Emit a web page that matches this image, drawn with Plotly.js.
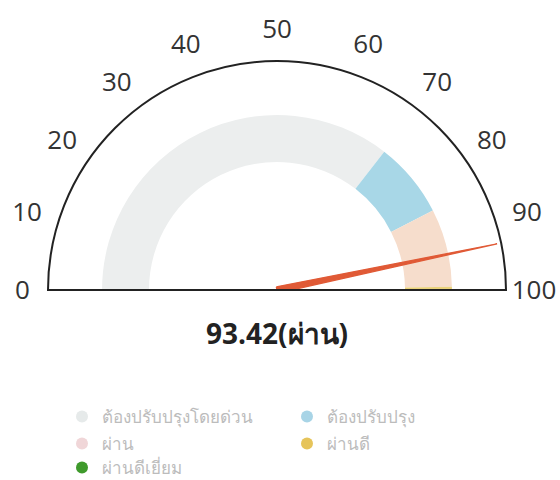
<!DOCTYPE html>
<html>
<head>
<meta charset="utf-8">
<script src="https://cdn.plot.ly/plotly-3.0.1.min.js"></script>
<style>html,body{margin:0;padding:0;background:#fff;}#chart{width:560px;height:480px;}</style>
</head>
<body>
<div id="chart"></div>
<script>
// ---- data ----
var gaugeMin = 0;
var gaugeMax = 100;
var tickValues = [0, 10, 20, 30, 40, 50, 60, 70, 80, 90, 100];
var tickLabels = ['0', '10', '20', '30', '40', '50', '60', '70', '80', '90', '100'];
var bandNames = ['ต้องปรับปรุงโดยด่วน', 'ต้องปรับปรุง', 'ผ่าน', 'ผ่านดี'];
var bandStarts = [0, 71, 85, 99.4];
var bandEnds = [71, 85, 99.4, 100];
var bandColors = ['#eceeee', '#a8d7e7', '#f6ddcc', '#ead27a'];
var legendNames = ['ต้องปรับปรุงโดยด่วน', 'ต้องปรับปรุง', 'ผ่าน', 'ผ่านดี', 'ผ่านดีเยี่ยม'];
var legendColors = ['#e6eaea', '#a8d4e6', '#f0d6d8', '#e6c45a', '#3f9a2c'];
var legendRows = ['legend', 'legend', 'legend2', 'legend2', 'legend3'];
var score = 93.42;
var scoreLabel = '93.42(ผ่าน)';

// ---- drawing ----
var deg = function (v) { return (v - gaugeMin) / (gaugeMax - gaugeMin) * 180; };
var FONT = '"Open Sans", "Noto Sans", "DejaVu Sans", sans-serif';
var innerR = 0.559, outerR = 0.764;
var nT = tickValues.length;

var traces = [];
for (var i = 0; i < bandNames.length; i++) {
  traces.push({
    type: 'barpolar',
    subplot: 'polar',
    r: [outerR - innerR],
    base: [innerR],
    theta: [(deg(bandStarts[i]) + deg(bandEnds[i])) / 2],
    width: [deg(bandEnds[i]) - deg(bandStarts[i])],
    marker: {color: bandColors[i], line: {width: 0}},
    name: bandNames[i],
    showlegend: false,
    hoverinfo: 'skip'
  });
}
// needle
var na = deg(score);
traces.push({
  type: 'scatterpolar',
  subplot: 'polar',
  mode: 'lines',
  r: [0.014, 0.982, 0.014, 0.014],
  theta: [na - 90, na, na + 90, na - 90],
  fill: 'toself',
  fillcolor: '#e05a36',
  line: {color: '#e05a36', width: 1.3},
  showlegend: false,
  hoverinfo: 'skip'
});
// legend entries
for (var j = 0; j < legendNames.length; j++) {
  traces.push({
    type: 'scatterpolar',
    subplot: 'polar2',
    mode: 'markers',
    r: [null],
    theta: [null],
    name: legendNames[j],
    legend: legendRows[j],
    marker: {color: legendColors[j], size: 12, symbol: 'circle'},
    hoverinfo: 'skip'
  });
}

function legendRow(yPix) {
  return {
    orientation: 'h',
    x: 62 / 560,
    xanchor: 'left',
    y: 1 - yPix / 480,
    yanchor: 'middle',
    entrywidth: 180,
    entrywidthmode: 'pixels',
    font: {size: 17, color: '#bcbcbc', family: FONT},
    bgcolor: 'rgba(0,0,0,0)',
    itemclick: false
  };
}

var domain = {x: [48 / 560, 506 / 560], y: [190 / 480, 419 / 480]};
function angular(vals, texts, len, showline) {
  return {
    rotation: 180,
    direction: 'clockwise',
    tickmode: 'array',
    tickvals: vals.map(deg),
    ticktext: texts,
    showgrid: false,
    showline: showline,
    linecolor: '#222',
    linewidth: 2,
    ticks: 'outside',
    ticklen: len,
    tickcolor: 'rgba(0,0,0,0)',
    tickfont: {size: 26, color: '#333', family: FONT}
  };
}

var layout = {
  width: 560,
  height: 480,
  margin: {l: 0, r: 0, t: 0, b: 0, autoexpand: false},
  paper_bgcolor: '#ffffff',
  font: {family: FONT, color: '#333'},
  polar: {
    domain: domain,
    sector: [0, 180],
    hole: 0,
    bgcolor: 'rgba(0,0,0,0)',
    radialaxis: {visible: false, range: [0, 1]},
    angularaxis: angular(tickValues.slice(0, nT - 1), tickLabels.slice(0, nT - 1), 12, true)
  },
  polar2: {
    domain: domain,
    sector: [0, 180],
    hole: 0,
    bgcolor: 'rgba(0,0,0,0)',
    radialaxis: {visible: false, range: [0, 1]},
    angularaxis: angular(tickValues.slice(nT - 1), tickLabels.slice(nT - 1), 0, false)
  },
  showlegend: true,
  legend: legendRow(417),
  legend2: legendRow(444),
  legend3: legendRow(468),
  annotations: [{
    text: '<b>' + scoreLabel + '</b>',
    xref: 'paper', yref: 'paper',
    x: 277 / 560, y: 1 - 333 / 480,
    xanchor: 'center', yanchor: 'middle',
    showarrow: false,
    font: {size: 28, color: '#222', family: FONT}
  }]
};

Plotly.newPlot('chart', traces, layout, {displayModeBar: false, staticPlot: true});
</script>
</body>
</html>
